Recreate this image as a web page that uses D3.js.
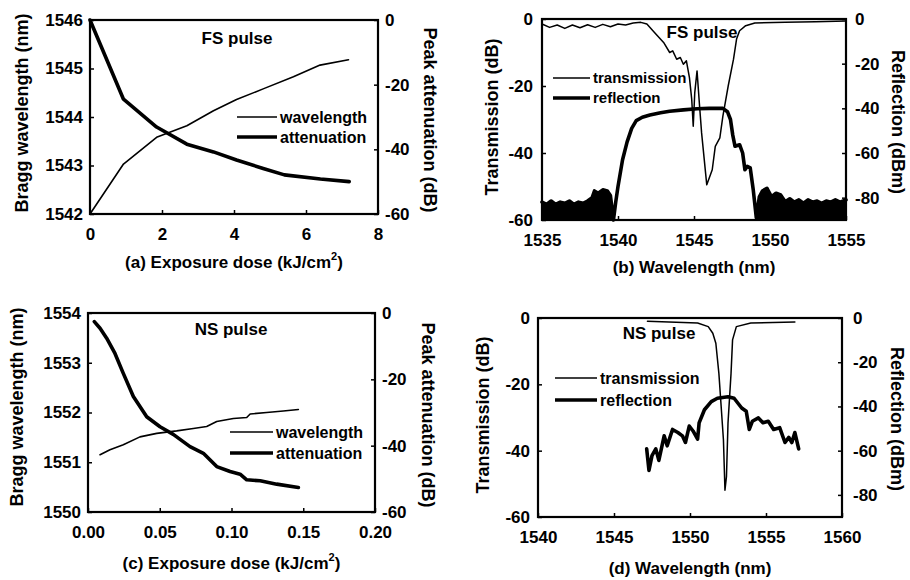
<!DOCTYPE html>
<html>
<head>
<meta charset="utf-8">
<script src="https://cdn.jsdelivr.net/npm/d3@7"></script>
<style>
  body { margin: 0; background: #fff; }
  text { font-family: "Liberation Sans", Arial, sans-serif; font-weight: bold; fill: #000; }
</style>
</head>
<body>
<script>
// (a) FS pulse: exposure dose (kJ/cm2) vs Bragg wavelength / peak attenuation
const fsWavelength = [[0, 1542], [0.93, 1543.03], [1.85, 1543.58], [2.69, 1543.82], [3.43, 1544.13],
  [4.07, 1544.36], [4.81, 1544.58], [5.65, 1544.83], [6.39, 1545.07], [7.18, 1545.18]];
const fsAttenuation = [[0, 0], [0.93, -24.5], [1.85, -33.1], [2.69, -38.4], [3.43, -40.8],
  [4.07, -43.3], [4.81, -45.9], [5.4, -47.9], [6.4, -49.2], [7.2, -50]];

// (b) FS pulse spectra
const fsTransmission = [[1535, -1.5], [1535.5, -2.5], [1536, -1.8], [1536.5, -2.8], [1537, -1.8],
  [1537.5, -2.6], [1538, -1.7], [1538.5, -2.5], [1539, -1.6], [1539.5, -2.3], [1540, -1.5],
  [1540.5, -1.8], [1541, -1.2], [1541.5, -1], [1541.9, -1.5], [1542.4, -4], [1543.0, -7],
  [1543.4, -10], [1543.6, -9.5], [1543.86, -12], [1544.1, -11.5], [1544.3, -13.5], [1544.5, -12.5],
  [1544.7, -17.5], [1544.85, -24], [1544.95, -32], [1545.05, -22], [1545.2, -15.5], [1545.35, -25],
  [1545.5, -34], [1545.84, -49.5], [1546.2, -45], [1546.4, -38], [1546.7, -35.5], [1546.9, -29],
  [1547.25, -20], [1547.6, -12], [1547.8, -6], [1548.0, -3.5], [1548.4, -2], [1549, -1.2],
  [1551, -1], [1553, -0.8], [1555, -0.6]];
const fsReflection = [[1535, -82], [1535.3, -83], [1535.6, -81.5], [1535.9, -83], [1536.2, -82],
  [1536.5, -82.5], [1536.8, -81.5], [1537.1, -83], [1537.4, -82], [1537.7, -82.5], [1538.0, -81.5],
  [1538.3, -80], [1538.45, -77], [1538.7, -78], [1539.0, -76.5], [1539.3, -77], [1539.5, -79],
  [1539.7, -90], [1539.85, -82], [1540.0, -75], [1540.3, -63], [1540.6, -55], [1540.9, -49],
  [1541.2, -45.5], [1541.6, -44], [1542.1, -43], [1542.8, -42], [1543.4, -41.3], [1544.3, -40.7],
  [1545.2, -40.2], [1546.0, -40], [1546.9, -40], [1547.2, -41.5], [1547.4, -45], [1547.55, -52],
  [1547.7, -57], [1548.0, -56.3], [1548.2, -60], [1548.35, -67.5], [1548.5, -66], [1548.7, -66.7],
  [1548.9, -76.6], [1549.1, -89], [1549.3, -79.6], [1549.5, -77], [1549.8, -75.8], [1550.1, -79.6],
  [1550.4, -78], [1550.7, -78.8], [1551.0, -81.8], [1551.3, -80.5], [1551.6, -82], [1551.9, -81],
  [1552.2, -82.5], [1552.5, -81], [1552.8, -82], [1553.1, -81.5], [1553.4, -82.5], [1553.7, -81.5],
  [1554.0, -82], [1554.3, -81], [1554.6, -82], [1555, -81]];

// (c) NS pulse: exposure dose vs Bragg wavelength / peak attenuation
const nsWavelength = [[0.0084, 1551.15], [0.0153, 1551.25], [0.0246, 1551.35], [0.0362, 1551.51],
  [0.0479, 1551.58], [0.0618, 1551.63], [0.0734, 1551.68], [0.0827, 1551.72], [0.0897, 1551.82],
  [0.1013, 1551.88], [0.1106, 1551.9], [0.113, 1551.97], [0.1245, 1552.0], [0.1361, 1552.03],
  [0.1466, 1552.06]];
const nsAttenuation = [[0.0044, -2.6], [0.0084, -4.6], [0.013, -7.6], [0.0188, -12.2], [0.0246, -18.2],
  [0.0316, -25.2], [0.0409, -31.3], [0.0502, -34.3], [0.0594, -36.6], [0.0711, -40.3],
  [0.0804, -42.3], [0.0897, -46.3], [0.099, -47.8], [0.106, -48.6], [0.1106, -50.3], [0.12, -50.6],
  [0.1315, -51.6], [0.1466, -52.6]];

// (d) NS pulse spectra
const nsTransmission = [[1547.2, -1], [1550.5, -1.5], [1551.2, -2.6], [1551.5, -4.6], [1551.7, -7.6],
  [1551.9, -16.7], [1552.05, -26.7], [1552.2, -36.8], [1552.3, -51.9], [1552.4, -47.8],
  [1552.5, -31.7], [1552.7, -16.7], [1552.8, -6.6], [1553.05, -2.6], [1554, -1.5], [1556.9, -1.2]];
const nsReflection = [[1547.15, -59.2], [1547.3, -68.9], [1547.5, -62.2], [1547.75, -59.2],
  [1547.95, -64.4], [1548.3, -53.3], [1548.5, -57.8], [1548.85, -50.4], [1549.2, -51.8],
  [1549.5, -53.3], [1549.7, -56.3], [1549.95, -48.9], [1550.2, -51.1], [1550.5, -54.8],
  [1550.6, -47.4], [1550.95, -41.5], [1551.4, -37.8], [1551.8, -36.3], [1552.5, -35.6],
  [1552.9, -36.3], [1553.4, -40.7], [1553.7, -42.2], [1553.9, -50.4], [1554.1, -46.7],
  [1554.5, -45.2], [1554.8, -47.4], [1555.15, -46.7], [1555.5, -50.4], [1555.9, -49.6],
  [1556.25, -56.3], [1556.5, -54], [1556.7, -56.3], [1556.9, -51.8], [1557.15, -59.2]];

// tick values
const doseTicksA = [0, 2, 4, 6, 8];
const braggTicksA = [1542, 1543, 1544, 1545, 1546];
const doseTicksC = [0, 0.05, 0.1, 0.15, 0.2];
const braggTicksC = [1550, 1551, 1552, 1553, 1554];
const attTicks = [0, -20, -40, -60];
const transTicks = [0, -20, -40, -60];
const reflTicks = [0, -20, -40, -60, -80];
const wlTicksB = [1535, 1540, 1545, 1550, 1555];
const wlTicksD = [1540, 1545, 1550, 1555, 1560];

const svg = d3.select("body").append("svg").attr("width", 910).attr("height", 580);

function panel(p) {
  const g = svg.append("g");
  const x = d3.scaleLinear().domain(p.xDomain).range([p.left, p.right]);
  const yL = d3.scaleLinear().domain(p.yLDomain).range([p.bottom, p.top]);
  const yR = d3.scaleLinear().domain(p.yRDomain).range([p.bottom, p.top]);

  const ax = g.append("g").attr("transform", `translate(0,${p.bottom})`)
    .call(d3.axisBottom(x).tickValues(p.xTicks).tickFormat(p.xFormat).tickSize(-4).tickPadding(14));
  const al = g.append("g").attr("transform", `translate(${p.left},0)`)
    .call(d3.axisLeft(yL).tickValues(p.yLTicks).tickFormat(d => d).tickSize(-4).tickPadding(p.padL));
  const ar = g.append("g").attr("transform", `translate(${p.right},0)`)
    .call(d3.axisRight(yR).tickValues(p.yRTicks).tickFormat(d => d).tickSize(-4).tickPadding(p.padR));
  [ax, al, ar].forEach(a => {
    a.select(".domain").remove();
    a.selectAll("line").attr("stroke", "#000").attr("stroke-width", 1.5);
    a.selectAll("text").attr("font-size", 17).attr("font-family", null);
  });

  g.append("rect")
    .attr("x", p.left).attr("y", p.top)
    .attr("width", p.right - p.left).attr("height", p.bottom - p.top)
    .attr("fill", "none").attr("stroke", "#000").attr("stroke-width", 2.2);

  // x title with superscript
  const xt = g.append("text").attr("x", (p.left + p.right) / 2).attr("y", p.bottom + p.xTitleDy)
    .attr("text-anchor", "middle").attr("font-size", 17);
  xt.append("tspan").text(p.xTitle);
  if (p.sup) {
    xt.append("tspan").text("2").attr("font-size", 11).attr("dy", -8);
    xt.append("tspan").text(")").attr("dy", 8);
  }

  g.append("text")
    .attr("transform", `translate(${p.yLTitleX},${p.yLTitleY}) rotate(-90)`)
    .attr("text-anchor", "middle").attr("dominant-baseline", "central")
    .attr("font-size", 18).text(p.yLTitle);
  g.append("text")
    .attr("transform", `translate(${p.yRTitleX},${p.yRTitleY}) rotate(90)`)
    .attr("text-anchor", "middle").attr("dominant-baseline", "central")
    .attr("font-size", 18).text(p.yRTitle);

  g.append("text").attr("x", p.tagX).attr("y", p.tagY).attr("text-anchor", "middle")
    .attr("font-size", 17).text(p.tag);

  return { g, x, yL, yR };
}

function curve(pn, data, yScale, width) {
  pn.g.append("path").datum(data)
    .attr("fill", "none").attr("stroke", "#000").attr("stroke-width", width)
    .attr("stroke-linejoin", "round").attr("stroke-linecap", "round")
    .attr("d", d3.line().x(d => pn.x(d[0])).y(d => yScale(d[1])));
}

function legend(pn, lx, items, size) {
  items.forEach(it => {
    pn.g.append("line").attr("x1", lx).attr("x2", lx + it.len).attr("y1", it.y).attr("y2", it.y)
      .attr("stroke", "#000").attr("stroke-width", it.w);
    pn.g.append("text").attr("x", lx + it.len + 3).attr("y", it.y).attr("dy", "0.35em")
      .attr("font-size", size).text(it.label);
  });
}

// (a)
const pa = panel({
  left: 90, right: 378, top: 20, bottom: 214,
  xDomain: [0, 8], yLDomain: [1542, 1546], yRDomain: [-60, 0],
  xTicks: doseTicksA, xFormat: d3.format("d"), yLTicks: braggTicksA, yRTicks: attTicks,
  padL: 7, padR: 7,
  xTitle: "(a) Exposure dose (kJ/cm", sup: true, xTitleDy: 54,
  yLTitle: "Bragg wavelength (nm)", yLTitleX: 22, yLTitleY: 113,
  yRTitle: "Peak attenuation (dB)", yRTitleX: 430, yRTitleY: 120,
  tag: "FS pulse", tagX: 237, tagY: 44
});
curve(pa, fsWavelength, pa.yL, 1.6);
curve(pa, fsAttenuation, pa.yR, 3.6);
legend(pa, 237, [{ label: "wavelength", y: 117, w: 1.6, len: 40 }, { label: "attenuation", y: 137, w: 3.6, len: 40 }], 16);

// (b)
const pb = panel({
  left: 542, right: 846, top: 19, bottom: 220,
  xDomain: [1535, 1555], yLDomain: [-60, 0], yRDomain: [-90, 0],
  xTicks: wlTicksB, xFormat: d3.format("d"), yLTicks: transTicks, yRTicks: reflTicks,
  padL: 9, padR: 9,
  xTitle: "(b) Wavelength (nm)", sup: false, xTitleDy: 53,
  yLTitle: "Transmission (dB)", yLTitleX: 492, yLTitleY: 117,
  yRTitle: "Reflection (dBm)", yRTitleX: 898, yRTitleY: 122,
  tag: "FS pulse", tagX: 702, tagY: 38
});
pb.g.append("path").datum(fsReflection)
  .attr("fill", "#000")
  .attr("d", d3.area()
    .defined(d => d[0] <= 1539.7 || d[0] >= 1549.1)
    .x(d => pb.x(d[0])).y0(pb.yR(-90)).y1(d => pb.yR(d[1])));
curve(pb, fsReflection, pb.yR, 3.6);
curve(pb, fsTransmission, pb.yL, 1.5);
legend(pb, 553, [{ label: "transmission", y: 78, w: 1.5, len: 37 }, { label: "reflection", y: 98, w: 3.6, len: 37 }], 15);

// (c)
const pc = panel({
  left: 88, right: 375, top: 313, bottom: 512,
  xDomain: [0, 0.2], yLDomain: [1550, 1554], yRDomain: [-60, 0],
  xTicks: doseTicksC, xFormat: d3.format(".2f"), yLTicks: braggTicksC, yRTicks: attTicks,
  padL: 7, padR: 7,
  xTitle: "(c) Exposure dose (kJ/cm", sup: true, xTitleDy: 57,
  yLTitle: "Bragg wavelength (nm)", yLTitleX: 17, yLTitleY: 407,
  yRTitle: "Peak attenuation (dB)", yRTitleX: 428, yRTitleY: 415,
  tag: "NS pulse", tagX: 231, tagY: 335
});
curve(pc, nsWavelength, pc.yL, 1.6);
curve(pc, nsAttenuation, pc.yR, 3.6);
legend(pc, 230, [{ label: "wavelength", y: 432, w: 1.6, len: 43 }, { label: "attenuation", y: 453, w: 3.6, len: 43 }], 16);

// (d)
const pd = panel({
  left: 538, right: 842, top: 318, bottom: 517,
  xDomain: [1540, 1560], yLDomain: [-60, 0], yRDomain: [-90, 0],
  xTicks: wlTicksD, xFormat: d3.format("d"), yLTicks: transTicks, yRTicks: reflTicks,
  padL: 8, padR: 11,
  xTitle: "(d) Wavelength (nm)", sup: false, xTitleDy: 57,
  yLTitle: "Transmission (dB)", yLTitleX: 483, yLTitleY: 415,
  yRTitle: "Reflection (dBm)", yRTitleX: 897, yRTitleY: 419,
  tag: "NS pulse", tagX: 659, tagY: 339
});
curve(pd, nsReflection, pd.yR, 3.6);
curve(pd, nsTransmission, pd.yL, 1.5);
legend(pd, 555, [{ label: "transmission", y: 378, w: 1.5, len: 42 }, { label: "reflection", y: 400, w: 3.6, len: 42 }], 16);
</script>
</body>
</html>
